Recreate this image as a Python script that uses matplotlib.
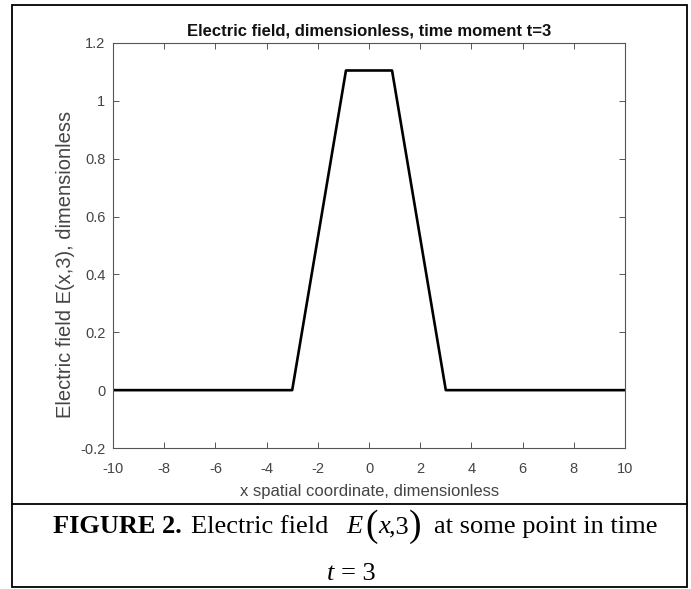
import matplotlib
matplotlib.use("Agg")
import matplotlib.pyplot as plt
from matplotlib.lines import Line2D
from matplotlib.patches import Rectangle

plt.rcParams['font.family'] = 'Liberation Sans'

# trapezoid pulse
x_vals = [-10, -3, -0.9, 0.9, 3, 10]
e_vals = [0, 0, 1.105, 1.105, 0, 0]
x_ticks = [-10, -8, -6, -4, -2, 0, 2, 4, 6, 8, 10]
y_ticks = [-0.2, 0, 0.2, 0.4, 0.6, 0.8, 1, 1.2]
y_ticklabels = ['-0.2', '0', '0.2', '0.4', '0.6', '0.8', '1', '1.2']

W, H = 691, 589
fig = plt.figure(figsize=(W / 100, H / 100), dpi=100)

def fx(px):
    return px / W

def fy(py):
    return 1 - py / H

axc = '#555555'
ax = fig.add_axes([fx(113), fy(448), 512 / W, 405 / H])
ax.plot(x_vals, e_vals, color='black', lw=1.9)
ax.set_xlim(-10, 10)
ax.set_ylim(-0.2, 1.2)
ax.set_xticks(x_ticks)
ax.set_xticklabels([str(v) for v in x_ticks])
ax.set_yticks(y_ticks)
ax.set_yticklabels(y_ticklabels)
for s in ax.spines.values():
    s.set_color(axc)
    s.set_linewidth(0.8)
ax.tick_params(direction='in', length=4, width=0.7, color=axc,
               top=True, right=True, labelsize=10.5, labelcolor='#444444')
ax.tick_params(axis='x', pad=10)
ax.tick_params(axis='y', pad=5.5)
ax.set_title('Electric field, dimensionless, time moment t=3',
             fontsize=12, fontweight='bold', color='#111111', pad=5.5)
ax.set_xlabel('x spatial coordinate, dimensionless', fontsize=12, color='#444444')
ax.set_ylabel('Electric field E(x,3), dimensionless', fontsize=14.5, color='#444444')
ax.xaxis.set_label_coords(0.501, -0.089)
ax.yaxis.set_label_coords(-0.074, 0.454)

# figure frame and caption box
fig.patches.append(Rectangle((fx(12), fy(587)), 675 / W, 582 / H,
                             transform=fig.transFigure, fill=False,
                             edgecolor='black', lw=1.3))
fig.lines.append(Line2D([fx(12), fx(687)], [fy(504), fy(504)],
                        transform=fig.transFigure, color='black', lw=1.3))

serif = 'Liberation Serif'
cs = 19
base1 = 533
fig.text(fx(53), fy(base1), 'FIGURE 2.', fontsize=cs, family=serif,
         fontweight='bold', va='baseline')
fig.text(fx(191), fy(base1), 'Electric field', fontsize=cs, family=serif, va='baseline')
fig.text(fx(346), fy(base1), 'E', fontsize=cs, family=serif, style='italic', va='baseline')
fig.text(fx(365), fy(base1 + 3), '(', fontsize=27, family=serif, va='baseline')
fig.text(fx(378), fy(base1), 'x', fontsize=cs, family=serif, style='italic', va='baseline')
fig.text(fx(389), fy(base1), ',3', fontsize=cs, family=serif, va='baseline')
fig.text(fx(409), fy(base1 + 3), ')', fontsize=27, family=serif, va='baseline')
fig.text(fx(434), fy(base1), 'at some point in time', fontsize=cs, family=serif, va='baseline')

base2 = 580
fig.text(fx(327), fy(base2), 't', fontsize=cs, family=serif, style='italic', va='baseline')
fig.text(fx(341), fy(base2), '= 3', fontsize=cs, family=serif, va='baseline')

fig.savefig('out.png', dpi=100)
